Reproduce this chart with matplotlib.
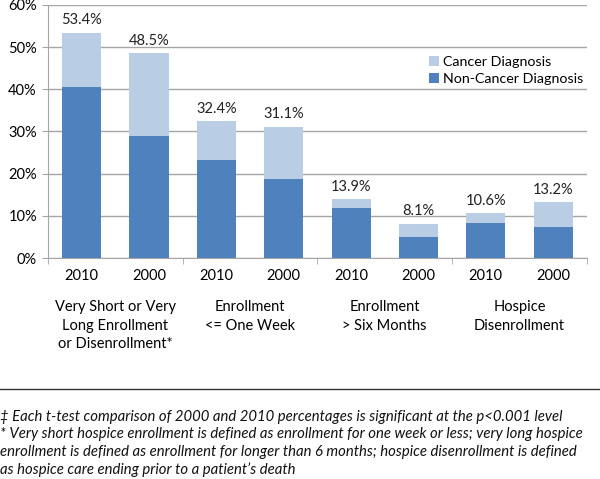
import matplotlib
matplotlib.use("Agg")
import matplotlib.pyplot as plt
import numpy as np

plt.rcParams['font.family'] = ['Lato', 'DejaVu Sans']

years = ["2010", "2000", "2010", "2000", "2010", "2000", "2010", "2000"]
groups = ["Very Short or Very\nLong Enrollment\nor Disenrollment*",
          "Enrollment\n<= One Week",
          "Enrollment\n> Six Months",
          "Hospice\nDisenrollment"]
totals = [53.4, 48.5, 32.4, 31.1, 13.9, 8.1, 10.6, 13.2]
non_cancer = [40.6, 29.0, 23.3, 18.8, 11.8, 5.0, 8.3, 7.3]
cancer = [t - n for t, n in zip(totals, non_cancer)]
yticks = [0, 10, 20, 30, 40, 50, 60]

dark = "#4F81BD"
light = "#B9CDE5"
grid = "#A6A6A6"

fig = plt.figure(figsize=(6, 4.79), dpi=100)
ax = fig.add_axes([0.08, 0.461, 0.898, 0.529])

x = np.arange(len(years))
ax.bar(x, non_cancer, width=0.58, color=dark, label="Non-Cancer Diagnosis", zorder=3)
ax.bar(x, cancer, width=0.58, bottom=non_cancer, color=light, label="Cancer Diagnosis", zorder=3)

# total above each stack
for xi, t in zip(x, totals):
    ax.text(xi, t + 1.3, f"{t:.1f}%", ha="center", va="bottom", fontsize=10.5, color="#222222")

ax.set_ylim(0, 60)
ax.set_xlim(-0.5, len(years) - 0.5)
ax.set_yticks(yticks)
ax.set_yticklabels([f"{v}%" for v in yticks], fontsize=10.5)
ax.yaxis.grid(True, color=grid, linewidth=1, zorder=0)
ax.set_xticks(x)
ax.set_xticklabels(years, fontsize=10.5)
ax.tick_params(axis="x", length=0, pad=8)
ax.tick_params(axis="y", length=4, color=grid, pad=4)
ax.set_xticks(np.arange(-0.5, len(years), 2), minor=True)
ax.tick_params(axis="x", which="minor", length=4, color=grid)

for s in ["top", "right"]:
    ax.spines[s].set_visible(False)
ax.spines["left"].set_color(grid)
ax.spines["bottom"].set_color(grid)

for i, g in enumerate(groups):
    ax.text(2 * i + 0.5, -9.8, g, ha="center", va="top", fontsize=10.5,
            linespacing=1.45)

handles, labels = ax.get_legend_handles_labels()
ax.legend(handles[::-1], labels[::-1], loc="upper left", bbox_to_anchor=(0.696, 0.82),
          frameon=False, fontsize=10.3, handlelength=0.7, handleheight=0.7,
          handletextpad=0.3, labelspacing=0.35, borderaxespad=0)

fig.add_artist(plt.Line2D([0, 1], [1 - 389 / 479, 1 - 389 / 479], color="#333333", linewidth=1))

notes = ["\u2021 Each t-test comparison of 2000 and 2010 percentages is significant at the p<0.001 level",
         "* Very short hospice enrollment is defined as enrollment for one week or less; very long hospice",
         "enrollment is defined as enrollment for longer than 6 months; hospice disenrollment is defined",
         "as hospice care ending prior to a patient\u2019s death"]
for i, n in enumerate(notes):
    fig.text(0.0, 1 - (416.5 + 17.8 * i) / 479, n, ha="left", va="center",
             fontsize=10.7, style="italic", color="#111111")

fig.savefig("out.png", dpi=100)
